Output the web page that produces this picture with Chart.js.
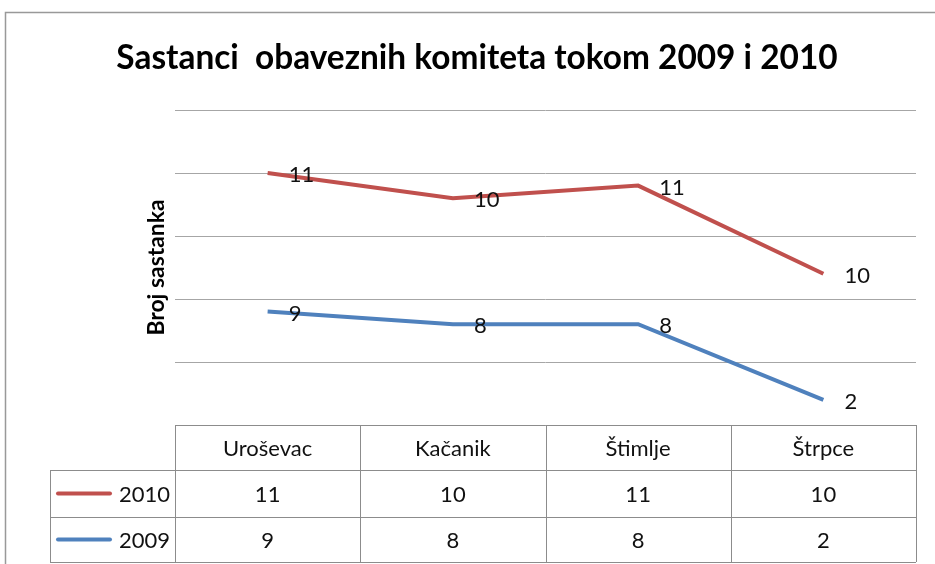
<!DOCTYPE html>
<html>
<head>
<meta charset="utf-8">
<script src="https://cdn.jsdelivr.net/npm/chart.js@4.4.1/dist/chart.umd.min.js"></script>
<style>
  html, body { margin: 0; padding: 0; background: #fff; }
</style>
</head>
<body>
<canvas id="chart" width="935" height="564"></canvas>
<script>
// chart data
var chartTitle = 'Sastanci  obaveznih komiteta tokom 2009 i 2010';
var yTitle = 'Broj sastanka';
var categories = ['Uroševac', 'Kačanik', 'Štimlje', 'Štrpce'];
var seriesNames = ['2010', '2009'];
var values2010 = [11, 10, 11, 10];
var values2009 = [9, 8, 8, 2];
var yMax = 25;
var yStep = 5;

var red = '#C0504D';
var blue = '#4F81BD';
var fontFamily = 'Lato, "Liberation Sans", sans-serif';

// fits a font size so text spans roughly the wanted width
function fitFont(ctx, text, weight, target) {
    ctx.font = weight + ' 100px ' + fontFamily;
    var w = ctx.measureText(text).width;
    return Math.round(100 * target / w * 10) / 10;
}

var extrasPlugin = {
    id: 'extras',
    afterDraw: function (chart) {
        var ctx = chart.ctx;
        var area = chart.chartArea;
        var xScale = chart.scales.x;
        ctx.save();

        // outer chart border
        ctx.strokeStyle = '#999';
        ctx.lineWidth = 1.5;
        ctx.beginPath();
        ctx.moveTo(935, 12.5);
        ctx.lineTo(5.5, 12.5);
        ctx.lineTo(5.5, 564);
        ctx.stroke();

        // title
        var ts = fitFont(ctx, chartTitle, 'bold', 721);
        ctx.font = 'bold ' + ts + 'px ' + fontFamily;
        ctx.fillStyle = '#000';
        ctx.textAlign = 'center';
        ctx.textBaseline = 'middle';
        ctx.fillText(chartTitle, 477, 58);

        // y axis title
        ctx.save();
        ctx.translate(157, (area.top + area.bottom) / 2);
        ctx.rotate(-Math.PI / 2);
        ctx.font = 'bold ' + fitFont(ctx, yTitle, 'bold', 136) + 'px ' + fontFamily;
        ctx.fillText(yTitle, 0, 0);
        ctx.restore();

        // data labels, right of each point, showing unstacked values
        ctx.font = '22px ' + fontFamily;
        ctx.textAlign = 'left';
        ctx.fillStyle = '#111';
        chart.data.datasets.forEach(function (ds, di) {
            var meta = chart.getDatasetMeta(di);
            meta.data.forEach(function (pt, i) {
                ctx.fillText(String(ds.data[i]), pt.x + 21, pt.y + 2);
            });
        });

        // data table
        var rowTop = area.bottom;
        var rows = [rowTop, rowTop + 45, rowTop + 92, rowTop + 137];
        var bounds = [area.left];
        for (var i = 0; i < categories.length - 1; i++) {
            bounds.push((xScale.getPixelForValue(i) + xScale.getPixelForValue(i + 1)) / 2);
        }
        bounds.push(area.right);
        var legendLeft = 50;

        ctx.strokeStyle = '#8c8c8c';
        ctx.lineWidth = 1;
        ctx.beginPath();
        // horizontal lines
        ctx.moveTo(area.left, Math.round(rows[0]) + 0.5);
        ctx.lineTo(area.right, Math.round(rows[0]) + 0.5);
        for (var r = 1; r < rows.length; r++) {
            ctx.moveTo(legendLeft, Math.round(rows[r]) + 0.5);
            ctx.lineTo(area.right, Math.round(rows[r]) + 0.5);
        }
        // vertical lines
        bounds.forEach(function (bx) {
            ctx.moveTo(Math.round(bx) + 0.5, rows[0]);
            ctx.lineTo(Math.round(bx) + 0.5, rows[3]);
        });
        ctx.moveTo(legendLeft + 0.5, rows[1]);
        ctx.lineTo(legendLeft + 0.5, rows[3]);
        ctx.stroke();

        ctx.fillStyle = '#111';
        ctx.font = '22px ' + fontFamily;
        ctx.textAlign = 'center';
        categories.forEach(function (c, i) {
            ctx.fillText(c, xScale.getPixelForValue(i), (rows[0] + rows[1]) / 2 + 1);
        });
        var tableRows = [
            {name: seriesNames[0], color: red, values: values2010},
            {name: seriesNames[1], color: blue, values: values2009}
        ];
        tableRows.forEach(function (row, ri) {
            var cy = (rows[ri + 1] + rows[ri + 2]) / 2 + 1;
            ctx.textAlign = 'center';
            ctx.fillStyle = '#111';
            row.values.forEach(function (v, i) {
                ctx.fillText(String(v), xScale.getPixelForValue(i), cy);
            });
            ctx.textAlign = 'right';
            ctx.fillText(row.name, area.left - 5, cy);
            ctx.strokeStyle = row.color;
            ctx.lineWidth = 4;
            ctx.lineCap = 'round';
            ctx.beginPath();
            ctx.moveTo(58, cy - 1);
            ctx.lineTo(110, cy - 1);
            ctx.stroke();
        });

        ctx.restore();
    }
};

var ctx = document.getElementById('chart').getContext('2d');
new Chart(ctx, {
    type: 'line',
    data: {
        labels: categories,
        datasets: [{
            label: seriesNames[1],
            data: values2009,
            borderColor: blue,
            backgroundColor: blue,
            borderWidth: 4,
            pointRadius: 0,
            fill: false,
            tension: 0
        }, {
            label: seriesNames[0],
            data: values2010,
            borderColor: red,
            backgroundColor: red,
            borderWidth: 4,
            pointRadius: 0,
            fill: false,
            tension: 0
        }]
    },
    options: {
        responsive: false,
        animation: false,
        layout: {
            padding: {left: 175, top: 110, right: 19, bottom: 139}
        },
        plugins: {
            legend: {display: false},
            title: {display: false},
            tooltip: {enabled: false}
        },
        scales: {
            x: {
                display: false,
                offset: true
            },
            y: {
                stacked: true,
                min: 0,
                max: yMax,
                ticks: {display: false, stepSize: yStep},
                grid: {color: '#a6a6a6', drawTicks: false},
                border: {display: false}
            }
        }
    },
    plugins: [extrasPlugin]
});
</script>
</body>
</html>
